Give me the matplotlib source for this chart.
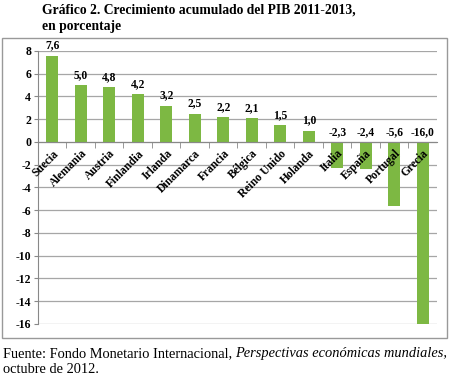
import matplotlib.pyplot as plt
from matplotlib.patches import Rectangle

# datos del gráfico
paises = ["Suecia", "Alemania", "Austria", "Finlandia", "Irlanda", "Dinamarca", "Francia",
          "Bélgica", "Reino Unido", "Holanda", "Italia", "España", "Portugal", "Grecia"]
crecimiento = [7.6, 5.0, 4.8, 4.2, 3.2, 2.5, 2.2, 2.1, 1.5, 1.0, -2.3, -2.4, -5.6, -16.0]
yticks = list(range(-16, 9, 2))

plt.rcParams['font.family'] = ['Liberation Serif', 'DejaVu Serif']
plt.rcParams['axes.unicode_minus'] = False

fig = plt.figure(figsize=(4.5, 3.76), dpi=100)
ax = fig.add_axes([0.0844, 0.1383, 0.8867, 0.7261])

# marco del gráfico
fig.patches.append(Rectangle((0.0044, 0.101), 0.989, 0.798, transform=fig.transFigure,
                             fill=False, edgecolor="#999999", linewidth=1.0))

x = range(len(paises))
ax.bar(x, crecimiento, width=0.42, color="#7DB843", zorder=3)

ax.set_xlim(-0.5, len(paises) - 0.5)
ax.set_ylim(-16, 8)
ax.set_yticks(yticks)
ax.set_yticklabels([str(v) for v in yticks], fontsize=8.5, fontweight="bold")
ax.grid(axis="y", color="#A6A6A6", linewidth=0.9, zorder=0)

for s in ["top", "right"]:
    ax.spines[s].set_visible(False)
ax.spines["left"].set_color("#888888")
ax.spines["bottom"].set_position(("data", 0))
ax.spines["bottom"].set_color("#888888")
ax.spines["bottom"].set_zorder(4)
ax.xaxis.set_zorder(5)

ax.tick_params(axis="y", length=3, color="#888888", pad=2)
ax.set_xticks(list(x))
ax.set_xticklabels(paises, rotation=45, ha="right", rotation_mode="anchor",
                   fontsize=8.3, fontweight="bold")
ax.tick_params(axis="x", which="major", length=0, pad=4)
ax.set_xticks([i + 0.5 for i in range(len(paises) - 1)], minor=True)
ax.tick_params(axis="x", which="minor", length=4, color="#888888", direction="out")

for i, v in enumerate(crecimiento):
    etiqueta = ("%.1f" % v).replace(".", ",")
    ax.annotate(etiqueta, (i, max(v, 0)), xytext=(0, 3), textcoords="offset points",
                ha="center", va="bottom", fontsize=8.3, fontweight="bold")

fig.text(0.093, 0.99, "Gráfico 2. Crecimiento acumulado del PIB 2011-2013,\nen porcentaje",
         ha="left", va="top", fontsize=9.8, fontweight="bold", linespacing=1.3)

t0 = fig.text(0.006, 0.05, "Fuente: Fondo Monetario Internacional, ", ha="left",
              va="baseline", fontsize=10.4)
fig.text(0.006, 0.008, "octubre de 2012.", ha="left", va="baseline", fontsize=10.4)

# parte en cursiva a continuación del texto normal
r = fig.canvas.get_renderer()
bb = t0.get_window_extent(renderer=r)
fig.text(bb.x1 / fig.bbox.width, 0.05, "Perspectivas económicas mundiales,", ha="left",
         va="baseline", fontsize=10.4, style="italic")

fig.savefig("out.png", dpi=100)
